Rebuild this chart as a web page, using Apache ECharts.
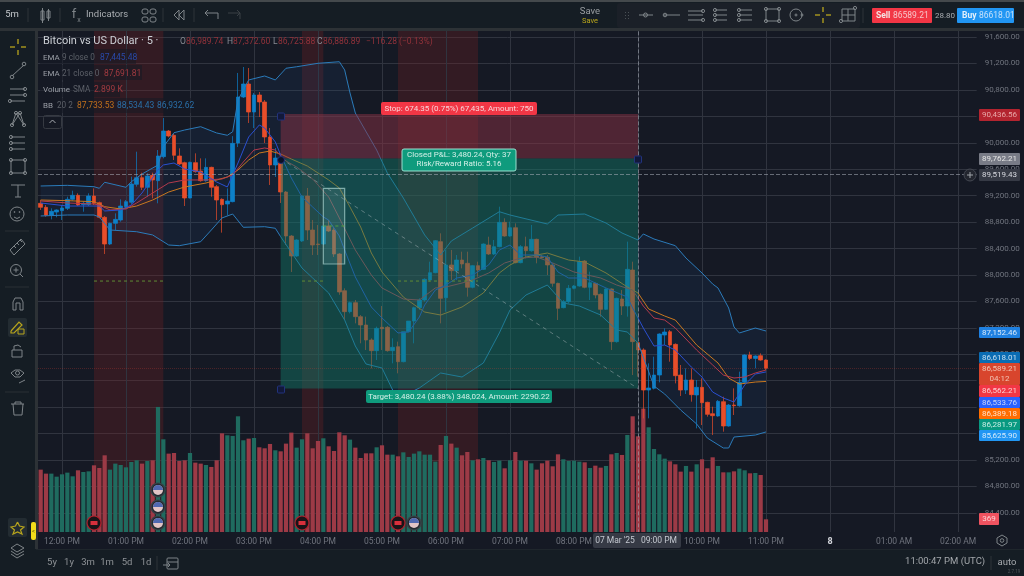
<!DOCTYPE html>
<html>
<head>
<meta charset="utf-8">
<style>html,body{margin:0;padding:0;background:#151924}#chart{width:1024px;height:576px}</style>
<script src="https://cdn.jsdelivr.net/npm/echarts@6/dist/echarts.min.js"></script>
</head>
<body>
<div id="chart"></div>
<script>
// 5 minute BTCUSD bars
const opens = [89084,89023,88902,88952,88973,89008,89144,89205,89063,89063,
  89194,89094,88872,88468,88781,88831,89033,89099,89371,89472,
  89326,89507,89426,89790,90178,90112,89800,89699,89164,89699,
  89573,89426,89628,89336,89144,89073,89109,89996,90692,90889,
  90465,90723,90617,90087,89664,89694,89255,88589,88287,88514,
  89195,88680,88468,88468,88741,88680,88317,87762,87445,87581,
  87369,87243,87016,86855,87208,87208,86855,86915,86688,87142,
  87303,87505,87621,87924,88035,88504,87656,88151,88065,88226,
  88176,87813,88141,88085,88453,88317,88428,88796,88589,88715,
  88186,88428,88367,88539,88277,88267,88151,87873,87505,87596,
  87798,87833,88211,87813,87873,87707,87480,87788,86991,87636,
  87530,88075,86976,86865,86259,86285,86486,87091,87142,86950,
  86486,86259,86411,86184,86300,86073,85901,85866,86083,85715,
  86032,86022,86375,86789,86738,86779,86713]
const closes = [89023,88902,88963,88983,89013,89144,89205,89058,89084,89194,
  89084,88872,88468,88781,88841,89043,89109,89376,89472,89326,
  89497,89437,89800,90178,90102,89810,89679,89164,89704,89563,
  89426,89628,89326,89134,89063,89119,89991,90692,90889,90465,
  90723,90617,90087,89664,89769,89255,88589,88287,88529,89195,
  88680,88453,88460,88741,88665,88317,87742,87445,87581,87369,
  87243,87016,86855,87192,87187,86855,86905,86688,87142,87303,
  87505,87621,87934,88035,88519,87646,88151,88065,88226,88166,
  87813,88141,88075,88468,88317,88428,88796,88589,88715,88186,
  88428,88367,88539,88267,88262,88151,87873,87495,87596,87798,
  87833,88201,87813,87883,87697,87480,87788,86991,87646,87530,
  88085,86991,86865,86259,86290,86486,87107,87137,86940,86476,
  86259,86411,86189,86300,86068,85891,85871,86088,85715,86032,
  86022,86375,86789,86738,86774,86713,86589]
const lows = [88983,88882,88841,88872,88831,88983,89124,89043,88957,89043,
  89058,88857,88317,88453,88680,88806,89008,89073,89336,89285,
  89184,89159,89084,89764,90082,89739,89663,89043,89159,89547,
  89411,89411,89184,88831,88640,88902,89099,89936,90677,90299,
  90223,90390,89996,89361,89482,89089,88453,88045,88272,88499,
  88529,88302,88302,88453,88650,88272,87700,87319,87419,87268,
  86966,86865,86587,86713,86865,86839,86663,86512,86678,87130,
  86966,87470,87596,87898,88025,87268,87445,87924,87924,88100,
  87672,87798,87974,88075,88302,88302,88418,88579,88579,88176,
  88176,88251,88352,88176,88251,87999,87823,87319,87495,87571,
  87783,87823,87798,87621,87646,87369,87470,86865,86976,87394,
  87369,86486,86461,85830,85831,86269,86375,86940,86688,86360,
  86169,86199,86083,85679,85730,85856,85579,85856,85629,85705,
  85881,86007,86360,86713,86587,86703,86562]
const highs = [89134,89058,89008,88993,89058,89184,89275,89235,89109,89235,
  89310,89109,88892,88791,88932,89144,89134,89487,89865,89547,
  89537,89547,89890,90375,90193,90143,89916,89714,89714,89840,
  89764,89764,89638,89361,89159,89310,90100,91056,91146,91131,
  90753,90768,90647,90223,89921,89709,89270,88604,88540,89210,
  89316,88831,88756,88756,88831,88710,88330,87798,87596,87621,
  87394,87369,87041,87218,87530,87228,87041,86991,87142,87303,
  87520,87646,87949,88201,88529,88630,88378,88378,88302,88352,
  88352,88151,88201,88478,88579,88529,89033,88857,88806,88781,
  88453,88579,88756,88549,88302,88302,88176,87883,87621,87848,
  87848,88277,88226,88050,87883,87722,87798,87798,87656,87772,
  88504,88201,86991,86890,86663,86764,87117,87192,87167,86965,
  86638,86587,86587,86411,86436,86083,86007,86108,86158,86048,
  86285,86537,86799,86839,86784,86814,86723]
const volumes = [1814,1698,1698,1610,1678,1727,1620,1795,1746,1765,
  1940,1862,2231,1814,1989,1950,1882,2037,2086,1989,
  2066,2086,3638,2697,2280,2299,2066,2086,2299,2018,
  1989,1950,1892,2086,2871,2813,2794,3366,2668,2716,
  2735,2464,2435,2561,2377,2347,2571,2891,2454,2697,
  2871,2435,2648,2726,2493,2357,2900,2813,2687,2454,
  2153,2289,2289,2464,2522,2250,2250,2202,2318,2183,
  2280,2347,2250,2250,2047,2532,2794,2571,2454,2231,
  2328,2086,2115,2153,2086,2037,2076,1853,2086,2328,
  2076,2076,1998,1814,1998,2076,1911,2260,2115,2066,
  2076,2047,2027,1862,1930,1872,1921,2260,2299,2241,
  2823,3366,2784,3589,3046,2415,2260,2134,2056,1969,
  1756,1921,1756,1969,2115,1853,2173,1921,1736,1736,
  1765,1843,1795,1707,1717,1659,369]

// indicator lines, read at the bends of each curve: bar index and price
const upperBars = [0,5,10,11,12,16,17,19,22,23,25,27,30,33,35,36,37,39,42,44,46,48,52,56,57,58,59,63,65,68,72,75,77,81,86,88,95,97,102,106,109,112,113,115,119,121,124,126,127,129,130,131,134,136]
const upperVals = [89346,89356,89335,89311,89402,89326,89411,89527,89664,89940,90152,90193,90243,90148,90113,90167,90647,90950,91010,90950,91127,91150,91202,91226,91101,90753,90450,89890,89543,89164,88605,88302,88514,88710,88957,88907,88771,88907,88922,88786,88635,88529,88620,88544,88443,88256,88030,87863,87803,87500,87213,87122,87197,87152]
const lowerBars = [0,5,10,11,13,18,21,24,26,30,32,34,36,38,42,44,45,49,51,54,57,59,61,64,66,68,71,75,79,83,86,88,91,95,98,101,105,108,110,112,115,117,120,123,125,128,129,130,134,136]
const lowerVals = [88892,88907,88907,88877,88680,88654,88605,88453,88443,88503,88680,88862,88922,88721,88730,88706,88579,88105,87954,87727,87318,86925,86653,86592,86259,86169,86290,86517,86456,86668,87122,87470,87697,87848,87576,87530,87394,87167,87137,86970,86320,86199,85957,85745,85533,85382,85382,85548,85578,85625]
const basisBars = [0,5,10,12,15,18,21,24,27,31,35,37,39,41,43,45,47,50,54,56,58,60,62,64,68,72,75,79,83,86,88,91,95,99,102,106,110,112,114,117,119,123,127,129,131,134,136]
const basisVals = [89134,89124,89108,89033,88998,89043,89134,89255,89331,89391,89482,89588,89739,89845,89875,89830,89754,89648,89437,89316,89028,88725,88332,88045,87666,87439,87394,87515,87727,88030,88151,88272,88332,88226,88196,88030,87818,87727,87485,87379,87318,86940,86668,86441,86350,86380,86389]
const ema9Bars = [0,5,11,12,15,17,19,22,23,25,27,30,33,35,36,37,39,41,42,44,45,47,49,51,53,54,56,57,59,60,62,64,67,69,71,72,74,76,78,81,84,86,88,90,93,95,97,99,102,106,110,111,113,115,117,119,122,124,126,128,130,132,134,136]
const ema9Vals = [89089,89043,89043,88968,88983,89058,89240,89588,89664,89694,89603,89558,89406,89331,89512,89694,90087,90269,90223,90012,89815,89467,89179,89028,88877,88831,88589,88377,87969,87818,87515,87349,87122,87137,87364,87545,87772,87848,87954,87999,88151,88377,88453,88302,88302,88272,88045,87954,87954,87803,87666,87500,87197,86925,86940,86864,86607,86456,86229,86138,86078,86335,86501,86533]
const ema21Bars = [0,5,10,11,13,16,18,21,24,27,31,34,36,38,40,42,44,45,46,48,51,54,56,59,62,64,68,71,74,76,79,81,84,87,90,93,96,100,105,108,111,113,115,117,119,123,126,128,130,132,134,136]
const ema21Vals = [89119,89089,89073,89058,88983,88998,89089,89240,89391,89437,89437,89452,89512,89709,89890,89921,89890,89800,89724,89633,89452,89179,88862,88377,87999,87803,87636,87621,87803,87818,87878,87924,88030,88181,88256,88272,88181,88045,87954,87848,87772,87530,87349,87318,87197,86864,86638,86486,86441,86456,86517,86562]

// session bands and position tool, in bars and prices
const sessionFrom = [10,49,67]
const sessionTo = [23,53,82]
const sessionDash = 87908
const stopPrice = 90436.56
const entryPrice = 89762.21
const targetPrice = 86281.97
const positionFrom = 45
const positionTo = 112
const crossPrice = 89519.43
const lastPrice = 86589.21

// event markers on the volume pane: 0 flag, 1 red release
const eventBars = [22,22,22,10,49,67,70]
const eventLevels = [1222,727,262,262,262,262,262]
const eventKinds = [0,0,0,1,1,1,0]

// time axis
const hourLabels = ['12:00 PM','01:00 PM','02:00 PM','03:00 PM','04:00 PM','05:00 PM','06:00 PM','07:00 PM','08:00 PM','09:00 PM','10:00 PM','11:00 PM','8','01:00 AM','02:00 AM']
const categories = new Array(176).fill('')
const hourBars = []
hourLabels.forEach((lab,k) => { categories[4+k*12] = lab; hourBars.push(4+k*12) })

// price tags on the right scale
const tagLabels = ['90,436.56','89,762.21','89,519.43','87,152.46','86,618.01','86,589.21','86,562.21','86,533.76','86,389.18','86,281.97','85,625.90']
const tagTops = [109,153,169,327,352,363,385,397,408,419,430]
const tagHeights = [12,12,12,11,11,22,12,11,11,11,11]
const tagFills = ['#b3242f','#787b86','#363a45','#1f80e0','#0a6cb3','#d8452d','#f23645','#2962ff','#ff6d00','#089981','#2196f3']
const tagTexts = ['#e8a8a8','#e4e4e4','#d8dae0','#d6e8fa','#c8dff0','#f3c4b4','#fbd0d4','#c8d4fb','#fde0c8','#c8eee4','#d6ebfb']

const UP = '#0d80c8', DOWN = '#e84e2a', GRID = '#30343f'
const FONT = 'Roboto'
const chart = echarts.init(document.getElementById('chart'))
const zip = (a,b) => a.map((x,i) => [x,b[i]])
const thin = (data,color,z) => ({type:'line',data,symbol:'none',showSymbol:false,silent:true,z,xAxisIndex:0,yAxisIndex:0,lineStyle:{color,width:1}})
const carrier = (z,extra) => Object.assign({type:'line',data:closes,symbol:'none',silent:true,z,lineStyle:{opacity:0},xAxisIndex:0,yAxisIndex:0},extra)
const noLabel = {show:false}
const dashes = (from,to,price,color) => {
  const s = thin([[from,price],[to,price]],color,7)
  s.lineStyle.type = [3,3]
  return s
}

// page furniture
const ICON = '#7e8488', YEL = '#b8a51c'
const g = []
const R = (x,y,w,h,fill,o={}) => g.push({type:'rect',shape:{x,y,width:w,height:h,r:o.r||0},style:{fill,stroke:o.stroke||null,lineWidth:o.lw||1},z:o.z||100})
const P = (pts,stroke=ICON,lw=1,z=120) => g.push({type:'polyline',shape:{points:pts},style:{stroke,fill:null,lineWidth:lw},z})
const C = (cx,cy,r,stroke=ICON,fill=null,z=120) => g.push({type:'circle',shape:{cx,cy,r},style:{stroke,fill,lineWidth:1},z})
const T = (x,y,text,fill,size=9,o={}) => g.push({type:'text',x,y,style:{text,fill,font:(o.w||'normal')+' '+size+'px '+FONT,textAlign:o.a||'left',textVerticalAlign:'middle'},z:o.z||130})

// outer frame and bars
R(0,0,1024,31,'#151d24')
R(0,0,1024,2,'#44494c')
R(0,28,1024,3,'#2d3236')
R(0,31,36,545,'#151d24')
R(35,31,3,520,'#2d3236')
R(38,532,986,17,'#151924')
R(0,549,1024,27,'#151d24')
R(36,549,988,1,'#1f262c')

// top toolbar
T(12,15,'5m','#c4c8cc',9.5,{a:'center'})
;[28,60,163,194].forEach(x => P([[x,8],[x,22]],'#2e3438'))
R(41,11,3,9,null,{stroke:ICON,z:120}); P([[42.5,8],[42.5,23]])
R(47,11,3,7,null,{stroke:ICON,z:120}); P([[48.5,9],[48.5,21]])
T(74,15,'f',ICON,13,{a:'center'}); T(79,20,'x',ICON,7,{a:'center'})
T(86,15,'Indicators','#a8acb0',9.5)
;[[143,11],[151,11],[143,19],[151,19]].forEach(p => R(p[0]-1,p[1]-2,6,5,null,{stroke:ICON,r:2,z:120}))
P([[179,10],[174,15],[179,20],[179,10]]); P([[184,10],[179,15],[184,20],[184,10]])
P([[205,13],[218,13],[218,19]]); P([[208,10],[205,13],[208,16]])
P([[240,19],[240,13],[228,13]],'#3a4045'); P([[237,10],[240,13],[237,16]],'#3a4045')
T(590,12,'Save','#9a9ea2',9.5,{a:'center'})
T(590,21,'Save',YEL,7.5,{a:'center'})
R(617,3,243,25,'#1b2028',{r:3,z:110})
;[[625,12],[625,15],[625,18],[628,12],[628,15],[628,18]].forEach(p => R(p[0],p[1],1,1,'#4a5055',{z:120}))
P([[639,15],[653,15]]); C(645.5,15,2)
P([[664,15],[680,15]]); C(665,15,1.8)
;[11,15,20].forEach(y => P([[688,y],[703,y]]))
C(703,11,1.6); C(703,20,1.6)
;[10,15,20].forEach(y => { P([[715,y],[727,y]]); C(715,y,1.6) })
;[10,15,20].forEach(y => { P([[739,y],[752,y]]); C(739,y,1.6) })
R(766,9,13,12,null,{stroke:ICON,z:120})
;[[766,9],[779,9],[766,21],[779,21]].forEach(p => C(p[0],p[1],1.6))
C(796,15,6); C(796,15,1); C(802,15,1)
P([[815,15],[820,15]],YEL,1.3); P([[826,15],[831,15]],YEL,1.3); P([[823,7],[823,12]],YEL,1.3); P([[823,18],[823,23]],YEL,1.3)
R(842,9,13,12,null,{stroke:ICON,z:120}); P([[848,9],[848,21]]); P([[842,15],[855,15]])
C(841,21,1.6); C(855,8,1.6)
P([[863,8],[863,23]],'#2e3438')
R(872,8,60,15,'#f23645',{r:1,z:110})
T(876,16,'Sell','#f4e4e4',8.5,{w:'bold'}); T(893,16,'86589.21','#f7c4c8',8.5)
T(945,16,'28.80','#a8acb0',8,{a:'center'})
R(957,8,57,15,'#2196f3',{r:1,z:110})
T(962,16,'Buy','#e4f0fb',8.5,{w:'bold'}); T(979,16,'86618.01','#c4e0fa',8.5)

// left toolbar
P([[10,47],[15,47]],YEL,1.3); P([[21,47],[26,47]],YEL,1.3); P([[18,39],[18,44]],YEL,1.3); P([[18,50],[18,55]],YEL,1.3)
P([[12,76],[24,65]]); C(12,77,1.8); C(24,64,1.8)
;[89,95,101].forEach(y => P([[10,y],[25,y]])); C(25,89,1.6); C(25,95,1.6); C(10,101,1.6)
P([[12,125],[16,113],[24,125],[20,113],[12,125]]); [[12,125],[16,113],[24,125],[20,113]].forEach(p => C(p[0],p[1],1.6))
;[137,143,149].forEach(y => P([[11,y],[25,y]])); C(11,137,1.6); C(11,143,1.6); C(11,149,1.6)
R(11,160,14,13,null,{stroke:ICON,z:120}); [[11,160],[25,160],[11,173],[25,173]].forEach(p => C(p[0],p[1],1.6))
P([[11,185],[25,185]]); P([[18,185],[18,197]]); P([[15,197],[21,197]])
C(17,214,7); C(14.5,212,.5); C(19.5,212,.5); P([[14,217],[17,218.5],[20,217]])
P([[10,250],[21,239],[25,244],[14,255],[10,250]]); P([[14,246],[16,248]]); P([[17,243],[19,245]]); P([[20,240],[22,242]])
C(16,270,5.5); P([[16,267.5],[16,272.5]]); P([[13.5,270],[18.5,270]]); P([[20,274],[23,277]])
;[231,287,392].forEach(y => P([[5,y],[29,y]],'#2a3035'))
P([[13,310],[13,302],[15,298],[21,298],[23,302],[23,310],[20,310],[20,303],[16,303],[16,310],[13,310]])
R(8,318,19,19,'#232c32',{r:2,z:110})
P([[11,331],[19,322],[22,325],[14,333],[11,333],[11,331]],YEL,1.2); R(18,329,6,5,null,{stroke:YEL,z:120})
R(12,350,10,7,null,{stroke:ICON,z:120}); P([[14,350],[14,346],[18,345],[21,347]])
P([[11,373],[15,370],[20,370],[24,373],[20,377],[15,377],[11,373]]); C(17.5,373,2); P([[19,383],[25,380]])
P([[11,404],[24,404]]); P([[13,404],[14,415],[22,415],[23,404]]); P([[15,404],[15,402],[21,402],[21,404]])
R(8,518,19,19,'#232c32',{r:2,z:110})
P([[17.5,522],[19.5,526],[24,527],[20.5,530],[22,534],[17.5,532],[13,534],[14.5,530],[11,527],[15.5,526],[17.5,522]],YEL,1.2)
R(31,522,5,18,'#f2dc1a',{r:2,z:125}); T(33.5,531,'<','#554c08',6,{a:'center'})
P([[11,548],[17,544],[24,548],[17,552],[11,548]]); P([[11,551],[17,555],[24,551]]); P([[11,554],[17,558],[24,554]])

// bottom bar
;[['5y',52],['1y',69],['3m',88],['1m',107],['5d',127],['1d',146]].forEach(p => T(p[1],563,p[0],'#8e9296',9.5,{a:'center'}))
P([[157,556],[157,570]],'#2e3438')
R(167,558,11,11,null,{stroke:ICON,r:1,z:120}); P([[167,562],[178,562]]); P([[163,565],[170,565]]); P([[168,563],[170,565],[168,567]])
T(985,562,'11:00:47 PM (UTC)','#a4a8ac',9.5,{a:'right'})
P([[991,556],[991,570]],'#2e3438')
T(1007,563,'auto','#a4a8ac',9.5,{a:'center'})
T(1014,572,'2.7.19','#50565a',4.5,{a:'center'})
g.push({type:'polygon',shape:{points:[[1002,535],[1007,538],[1007,543],[1002,546],[997,543],[997,538]]},style:{stroke:ICON,fill:null,lineWidth:1},z:130})
C(1002,540.5,1.8,ICON,null,130)
// crosshair date box
R(593,533,88,15,'#363a45',{r:2,z:210})
T(615,541,"07 Mar '25",'#c4c8d0',8.5,{a:'center',z:220})
T(659,541,'09:00 PM','#c4c8d0',8.5,{a:'center',z:220})

// legend block over the pane
const dimRed = '#92323a'
;[[49,96],[65,102],[82,80],[98,156]].forEach(r => R(40,r[0],r[1],15,'rgba(21,25,36,0.55)',{z:115}))
T(43,41,'Bitcoin vs US Dollar · 5 ·','#cdd0d6',11)
;[[180,'O',186,'86,989.74'],[227,'H',233,'87,372.60'],[273,'L',278,'86,725.88'],[317,'C',323,'86,886.89']].forEach(a => { T(a[0],42,a[1],'#888c94',8.5); T(a[2],42,a[3],dimRed,8.5) })
T(366,42,'−116.28 (−0.13%)',dimRed,8.5)
T(43,58,'EMA','#9a9ea6',8); T(62,58,'9 close 0','#5c6068',8.2); T(100,58,'87,445.48','#2a49a8',8.5)
T(43,74,'EMA','#9a9ea6',8); T(62,74,'21 close 0','#5c6068',8.2); T(104,74,'87,691.81','#a03a40',8.5)
T(43,90,'Volume','#9a9ea6',8); T(73,90,'SMA','#5c6068',8.2); T(94,90,'2.899 K','#a03a40',8.5)
T(43,106,'BB','#9a9ea6',8); T(57,106,'20 2','#5c6068',8.2); T(77,106,'87,733.53','#c0701c',8.5); T(117,106,'88,534.43','#2a6fa8',8.5); T(157,106,'86,932.62','#2a6fa8',8.5)
R(43.5,115.5,18,13,null,{stroke:'#363a42',r:2,z:120})
P([[49.5,123],[52.5,120],[55.5,123]],'#a8acb2')

// position tool labels and handles
R(381,102,156,13,'#f23645',{r:2,z:130})
T(459,109,'Stop: 674.35 (0.75%) 67,435, Amount: 750','#f9d4d8',8,{a:'center',z:135})
R(402,149,114,22,'#0f9b7d',{r:2,stroke:'#9adfd0',z:130})
T(459,155,'Closed P&L: 3,480.24, Qty: 37','#d4f0e8',8,{a:'center',z:135})
T(459,164,'Risk/Reward Ratio: 5.16','#d4f0e8',8,{a:'center',z:135})
R(366,390,186,13,'#0f9b7d',{r:2,z:130})
T(459,397,'Target: 3,480.24 (3.88%) 348,024, Amount: 2290.22','#d4f0e8',8,{a:'center',z:135})
;[[277.5,113],[634.5,156],[277.5,386]].forEach(p => R(p[0],p[1],7,7,'#12193a',{stroke:'#22337c',r:1,z:128}))
C(281,160,3.5,'#22337c','#0c1024',128)

// right scale tags
tagLabels.forEach((lab,k) => {
  R(979,tagTops[k],41,tagHeights[k],tagFills[k],{r:1,z:300})
  T(999.5,tagTops[k]+(k===5?5.5:tagHeights[k]/2),lab,tagTexts[k],8,{a:'center',z:310})
})
T(999.5,tagTops[5]+16,'04:12',tagTexts[5],8,{a:'center',z:310})
C(970,175,6,'#444852','#23262f',300)
P([[967,175],[973,175]],'#a0a4aa',1,310); P([[970,172],[970,178]],'#a0a4aa',1,310)
R(979,513,20,12,'#ef5360',{r:1,z:300})
T(989,519,'369','#fbd0d4',8,{a:'center',z:310})

chart.setOption({
  animation: false,
  backgroundColor: '#151924',
  textStyle: {fontFamily: FONT},
  grid: [
    {left: 38, top: 10.56, width: 938.67, height: 528.8},
    {left: 38, top: 400, width: 938.67, height: 132}
  ],
  xAxis: [
    {gridIndex: 0, type: 'category', data: categories, axisLine: noLabel, axisTick: noLabel, axisLabel: noLabel, splitLine: noLabel},
    {gridIndex: 1, type: 'category', data: categories, z: 200, axisLine: noLabel, axisTick: noLabel, splitLine: noLabel,
      axisLabel: {interval: (i,v) => v !== '', color: '#70747e', fontSize: 8.5, margin: 5, fontFamily: FONT,
        formatter: v => v === '8' ? '{b|8}' : v, rich: {b: {color: '#d4d6dc', fontWeight: 'bold', fontSize: 9}}}}
  ],
  yAxis: [
    {gridIndex: 0, type: 'value', position: 'right', min: 84000, max: 92000, interval: 400,
      axisLine: noLabel, axisTick: noLabel, splitLine: {lineStyle: {color: GRID, width: 1}},
      axisLabel: {color: '#70747e', fontSize: 8, margin: 8, showMinLabel: false, showMaxLabel: false, fontFamily: FONT,
        formatter: v => v.toLocaleString('en-US',{minimumFractionDigits: 2})}},
    {gridIndex: 1, type: 'value', min: 0, max: 3840, show: false}
  ],
  graphic: g,
  series: [
    // bollinger fill
    {type: 'custom', coordinateSystem: 'cartesian2d', xAxisIndex: 0, yAxisIndex: 0, z: 1, silent: true, data: [[0,89000]],
      renderItem: (p, api) => {
        const top = zip(upperBars,upperVals).map(d => api.coord(d))
        const bot = zip(lowerBars,lowerVals).map(d => api.coord(d)).reverse()
        return {type: 'polygon', shape: {points: top.concat(bot)}, style: {fill: 'rgba(34,84,150,0.13)'}}
      }},
    // session bands, hour lines, dashes behind everything
    carrier(1, {
      markArea: {silent: true, z: 1, itemStyle: {color: 'rgba(122,33,33,0.3)'}, label: noLabel,
        data: sessionFrom.map((b,k) => [{xAxis: b},{xAxis: sessionTo[k]}])},
      markLine: {silent: true, z: 1, symbol: 'none', label: noLabel, animation: false,
        lineStyle: {color: GRID, width: 1, type: 'solid'},
        data: hourBars.map(b => ({xAxis: b}))}
    }),
    {type: 'bar', data: volumes, xAxisIndex: 1, yAxisIndex: 1, z: 2, barWidth: 4.2, silent: true,
      itemStyle: {color: p => closes[p.dataIndex] >= opens[p.dataIndex] ? '#1f6b5f' : '#9c3a46'}},
    {type: 'candlestick', data: opens.map((o,i) => [o,closes[i],lows[i],highs[i]]), xAxisIndex: 0, yAxisIndex: 0, z: 3, barWidth: 4, silent: true,
      itemStyle: {color: UP, color0: DOWN, borderColor: UP, borderColor0: DOWN, borderWidth: 0.7}},
    thin(zip(upperBars,upperVals),'#2b7bba',4),
    thin(zip(lowerBars,lowerVals),'#2b7bba',4),
    thin(zip(basisBars,basisVals),'#c9781f',4),
    thin(zip(ema21Bars,ema21Vals),'#b33a4c',4),
    thin(zip(ema9Bars,ema9Vals),'#2a4fd0',4),
    // position tool above the candles
    carrier(6, {
      markArea: {silent: true, z: 6, label: noLabel, data: [
        [{xAxis: positionFrom, yAxis: stopPrice, itemStyle: {color: 'rgba(138,50,67,0.5)'}},{xAxis: positionTo, yAxis: entryPrice}],
        [{xAxis: positionFrom, yAxis: entryPrice, itemStyle: {color: 'rgba(18,124,107,0.45)'}},{xAxis: positionTo, yAxis: targetPrice}],
        [{xAxis: 53, yAxis: 89311, itemStyle: {color: 'rgba(200,230,230,0.12)', borderColor: 'rgba(190,230,225,0.6)', borderWidth: 1.2}},{xAxis: 57, yAxis: 88166}]
      ]},
      markLine: {silent: true, z: 7, symbol: 'none', label: noLabel, data: [
        {yAxis: crossPrice, lineStyle: {color: 'rgba(170,175,185,0.55)', type: 'dashed', width: 1}},
        {xAxis: positionTo, lineStyle: {color: 'rgba(170,175,185,0.55)', type: 'dashed', width: 1}},
        {yAxis: lastPrice, lineStyle: {color: 'rgba(200,60,50,0.3)', type: 'dotted', width: 1}}
      ]}
    }),
    Object.assign(thin([[positionFrom,entryPrice],[positionTo,targetPrice]],'rgba(200,205,210,0.4)',7), {lineStyle: {color: 'rgba(200,205,210,0.4)', width: 1, type: [4,4]}}),
    ...sessionFrom.map((b,k) => dashes(b,sessionTo[k],sessionDash,'#5f8a35')),
    dashes(53,57,88741,'#4fa040'),
    // event markers sit on the volume pane
    {type: 'custom', coordinateSystem: 'cartesian2d', xAxisIndex: 1, yAxisIndex: 1, z: 8, silent: true,
      data: eventBars.map((b,k) => [b,eventLevels[k],eventKinds[k]]),
      renderItem: (p, api) => {
        const c = api.coord([api.value(0),api.value(1)])
        const kind = api.value(2)
        const kids = [{type: 'circle', shape: {cx: c[0], cy: c[1], r: 7}, style: {fill: kind ? '#1a1418' : '#232a30', stroke: kind ? '#b0202c' : '#3a4248', lineWidth: 1.2}}]
        if (kind) kids.push({type: 'rect', shape: {x: c[0]-3.5, y: c[1]-2, width: 7, height: 4}, style: {fill: '#d8303c'}})
        else {
          kids.push({type: 'circle', shape: {cx: c[0], cy: c[1], r: 5}, style: {fill: '#e2c4c6'}})
          kids.push({type: 'sector', shape: {cx: c[0], cy: c[1], r: 5, r0: 0, startAngle: Math.PI, endAngle: 2*Math.PI}, style: {fill: '#5068b0'}})
        }
        return {type: 'group', children: kids}
      }}
  ]
})
</script>
</body>
</html>
